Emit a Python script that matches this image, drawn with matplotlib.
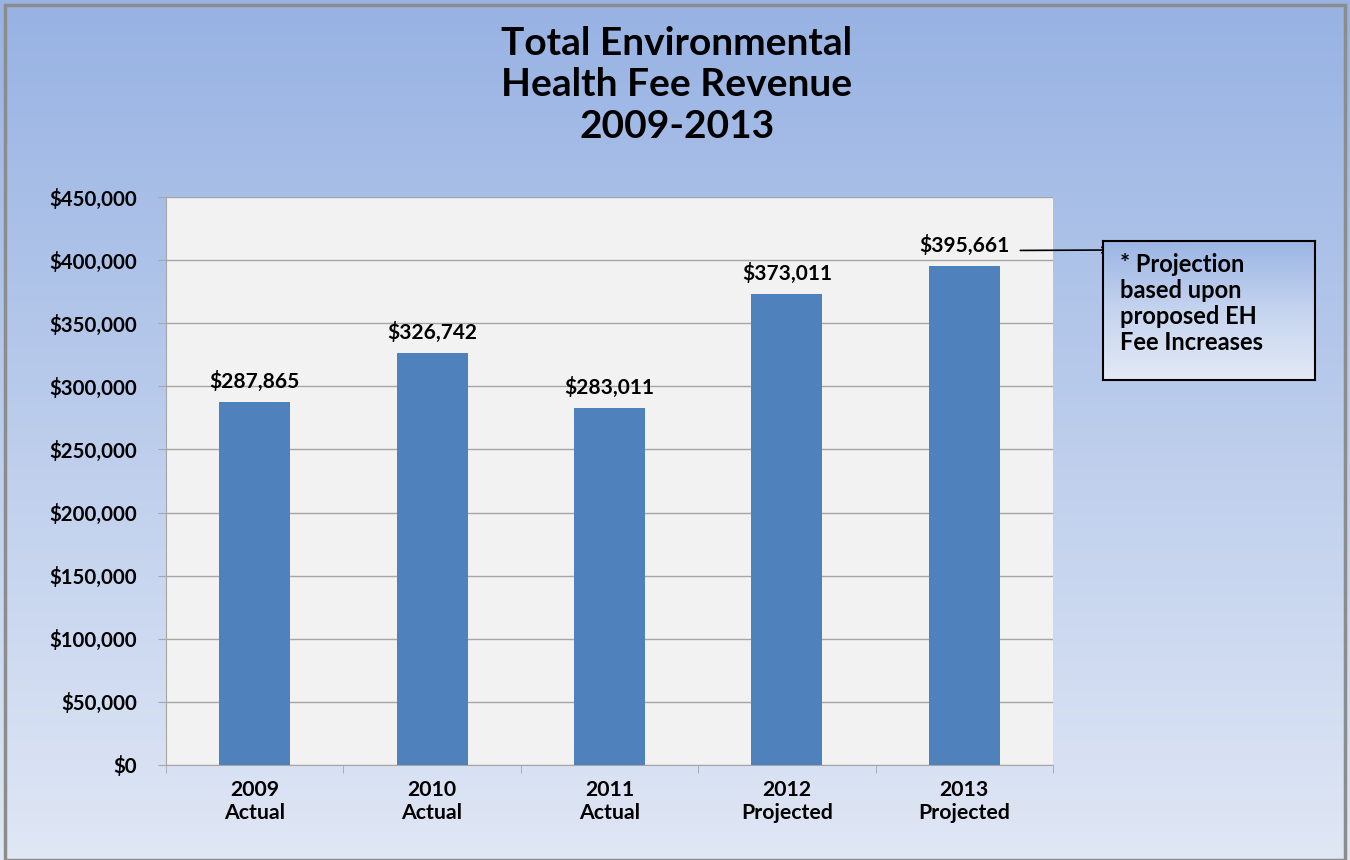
import matplotlib
matplotlib.use("Agg")
import matplotlib.pyplot as plt
import numpy as np
from matplotlib.colors import LinearSegmentedColormap
from matplotlib.patches import Rectangle

categories = ["2009\nActual", "2010\nActual", "2011\nActual", "2012\nProjected", "2013\nProjected"]
values = [287865, 326742, 283011, 373011, 395661]
value_labels = ["$287,865", "$326,742", "$283,011", "$373,011", "$395,661"]
yticks = [0, 50000, 100000, 150000, 200000, 250000, 300000, 350000, 400000, 450000]
title = "Total Environmental\nHealth Fee Revenue\n2009-2013"
note = "* Projection\nbased upon\nproposed EH\nFee Increases"

plt.rcParams['font.family'] = ['Lato', 'DejaVu Sans']

W, H = 1350, 860
fig = plt.figure(figsize=(W/100, H/100), dpi=100)

# background gradient
bg = fig.add_axes([0, 0, 1, 1], zorder=-10)
cmap = LinearSegmentedColormap.from_list("bg", ["#97b2e3", "#bccdec", "#e0e7f5"])
grad = np.linspace(0, 1, 256).reshape(-1, 1)
bg.imshow(grad, aspect="auto", cmap=cmap, extent=[0, 1, 0, 1], origin="upper")
bg.add_patch(Rectangle((5/W, 0), (W-10)/W, (H-5)/H, fill=False, edgecolor="#8c8c8c", lw=2.5, transform=bg.transAxes))
bg.set_xlim(0, 1); bg.set_ylim(0, 1)
bg.axis("off")

# plot area
l, r, t, b = 166, 1053, 197, 765
ax = fig.add_axes([l/W, 1-b/H, (r-l)/W, (b-t)/H])
ax.set_facecolor("#f2f2f2")
x = np.arange(len(values))
ax.bar(x, values, width=0.4, color="#4f81bd", zorder=3)
ax.set_xlim(-0.5, len(values)-0.5)
ax.set_ylim(0, 450000)
ax.set_yticks(yticks)
ax.set_yticklabels([f"${v:,}" for v in yticks], fontsize=14.7, fontweight="bold")
ax.set_xticks(x)
ax.set_xticklabels(categories, fontsize=15.3, fontweight="bold", linespacing=1.2)
ax.set_xticks(np.arange(-0.5, len(values)), minor=True)
ax.tick_params(axis="x", which="major", length=0, pad=10.5)
ax.tick_params(axis="x", which="minor", length=6, color="#a6a6a6")
ax.tick_params(axis="y", length=6, color="#a6a6a6", pad=15)
ax.yaxis.grid(True, color="#a6a6a6", lw=1, zorder=1)
for s in ["top", "right"]:
    ax.spines[s].set_visible(False)
for s in ["left", "bottom"]:
    ax.spines[s].set_color("#a6a6a6")

for xi, v, lab in zip(x, values, value_labels):
    ax.annotate(lab, (xi, v), xytext=(0, 7), textcoords="offset points",
                ha="center", va="bottom", fontsize=15, fontweight="bold")

fig.text(677/W, 1-85/H, title, ha="center", va="center", fontsize=28,
         fontweight="bold", linespacing=1.22)

# note box with gradient
bx0, by0, bx1, by1 = 1103, 241, 1315, 380
nax = fig.add_axes([bx0/W, 1-by1/H, (bx1-bx0)/W, (by1-by0)/H])
ncmap = LinearSegmentedColormap.from_list("nb", ["#9bb5e4", "#c5d4ef", "#e3eaf6"])
nax.imshow(grad, aspect="auto", cmap=ncmap, extent=[0, 1, 0, 1], origin="upper")
nax.set_xticks([]); nax.set_yticks([])
for s in nax.spines.values():
    s.set_color("black"); s.set_linewidth(1.5)
nax.text(17/(bx1-bx0), 1-12/(by1-by0), note, ha="left", va="top", fontsize=17,
         fontweight="bold", linespacing=1.15, transform=nax.transAxes)

# arrow from 2013 label to box
ax.annotate("", xy=(1112/W, 1-250/H), xycoords="figure fraction",
            xytext=(4.3, values[4]+12000), textcoords="data",
            arrowprops=dict(arrowstyle="->", color="black", lw=1.2), annotation_clip=False)

fig.savefig("out.png", dpi=100)
